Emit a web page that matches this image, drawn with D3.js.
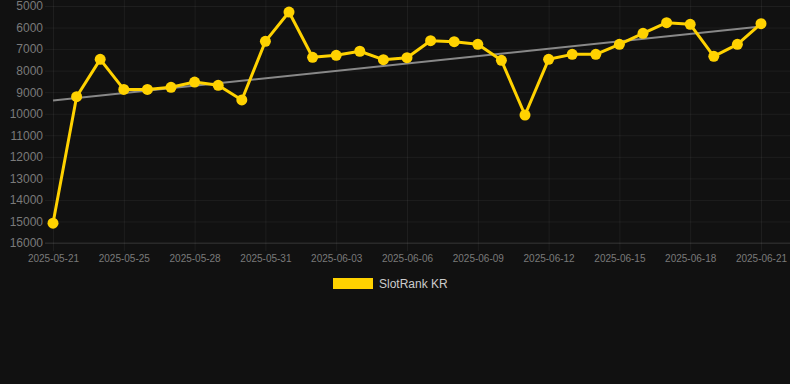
<!DOCTYPE html>
<html>
<head>
<meta charset="utf-8">
<script src="https://cdn.jsdelivr.net/npm/d3@7"></script>
<style>
  html, body { margin: 0; padding: 0; background: #111111; }
  svg { display: block; font-family: "Liberation Sans", Arial, sans-serif; }
</style>
</head>
<body>
<div id="chart"></div>
<script>
// dates shown on the x axis (category axis, one per point)
const dates = [
  '2025-05-21', '2025-05-23', '2025-05-24', '2025-05-25', '2025-05-26', '2025-05-27',
  '2025-05-28', '2025-05-29', '2025-05-30', '2025-05-31', '2025-06-01', '2025-06-02',
  '2025-06-03', '2025-06-04', '2025-06-05', '2025-06-06', '2025-06-07', '2025-06-08',
  '2025-06-09', '2025-06-10', '2025-06-11', '2025-06-12', '2025-06-13', '2025-06-14',
  '2025-06-15', '2025-06-16', '2025-06-17', '2025-06-18', '2025-06-19', '2025-06-20',
  '2025-06-21'
]
// rank values
const ranks = [
  15080, 9210, 7475, 8870, 8870, 8775, 8530, 8680, 9360, 6640, 5280, 7380,
  7290, 7100, 7490, 7400, 6610, 6655, 6780, 7520, 10060, 7475, 7245, 7245,
  6780, 6270, 5775, 5850, 7335, 6780, 5820
]
// trend line endpoints (first date, last date)
const trend = [9390, 5950]
const yTicks = [5000, 6000, 7000, 8000, 9000, 10000, 11000, 12000, 13000, 14000, 15000, 16000]
const seriesName = 'SlotRank KR'

const width = 790
const height = 384
const plot = { left: 53, right: 761, top: 6, bottom: 243 }

const svg = d3.select('#chart')
  .append('svg')
  .attr('width', width)
  .attr('height', height)

svg.append('rect')
  .attr('width', width)
  .attr('height', height)
  .attr('fill', '#111111')

const x = d3.scalePoint().domain(dates).range([plot.left, plot.right])
const y = d3.scaleLinear().domain([5000, 16000]).range([plot.top, plot.bottom])

const gridColor = 'rgba(255,255,255,0.055)'
const labelColor = '#7a7a7a'

// y axis + horizontal grid
const yAxis = svg.append('g')
  .attr('transform', `translate(${plot.left},0)`)
  .call(d3.axisLeft(y).tickValues(yTicks).tickSize(-(width - plot.left)).tickPadding(10).tickFormat(d3.format('d')))
yAxis.select('.domain').remove()
yAxis.selectAll('.tick line').attr('stroke', gridColor).attr('x1', -8)
yAxis.selectAll('.tick text')
  .attr('fill', labelColor)
  .attr('font-size', 12)
  .attr('x', -10)

// x axis + vertical grid, every third date
const xTickVals = dates.filter((d, i) => i % 3 === 0)
const xAxis = svg.append('g')
  .attr('transform', `translate(0,${plot.bottom})`)
  .call(d3.axisBottom(x).tickValues(xTickVals).tickSize(8).tickPadding(4))
xAxis.select('.domain').remove()
xAxis.selectAll('.tick line')
  .attr('stroke', gridColor)
  .attr('y1', -plot.bottom)
xAxis.selectAll('.tick text')
  .attr('fill', labelColor)
  .attr('font-size', 10)

// bottom axis line
svg.append('line')
  .attr('x1', plot.left - 8).attr('x2', width)
  .attr('y1', y(16000)).attr('y2', y(16000))
  .attr('stroke', 'rgba(255,255,255,0.1)')

// trend line
svg.append('line')
  .attr('x1', x(dates[0])).attr('y1', y(trend[0]))
  .attr('x2', x(dates[dates.length - 1])).attr('y2', y(trend[1]))
  .attr('stroke', '#888888')
  .attr('stroke-width', 2)

// series line
const yellow = '#ffd200'
const line = d3.line()
  .x((d, i) => x(dates[i]))
  .y(d => y(d))

svg.append('path')
  .datum(ranks)
  .attr('d', line)
  .attr('fill', 'none')
  .attr('stroke', yellow)
  .attr('stroke-width', 3)
  .attr('stroke-linejoin', 'round')

svg.append('g')
  .selectAll('circle')
  .data(ranks)
  .enter()
  .append('circle')
  .attr('cx', (d, i) => x(dates[i]))
  .attr('cy', d => y(d))
  .attr('r', 5.5)
  .attr('fill', yellow)

// legend
const legend = svg.append('g').attr('transform', 'translate(333,278)')
legend.append('rect')
  .attr('width', 40)
  .attr('height', 11)
  .attr('fill', yellow)
legend.append('text')
  .attr('x', 46)
  .attr('y', 10)
  .attr('font-size', 12)
  .attr('fill', '#cccccc')
  .text(seriesName)
</script>
</body>
</html>
